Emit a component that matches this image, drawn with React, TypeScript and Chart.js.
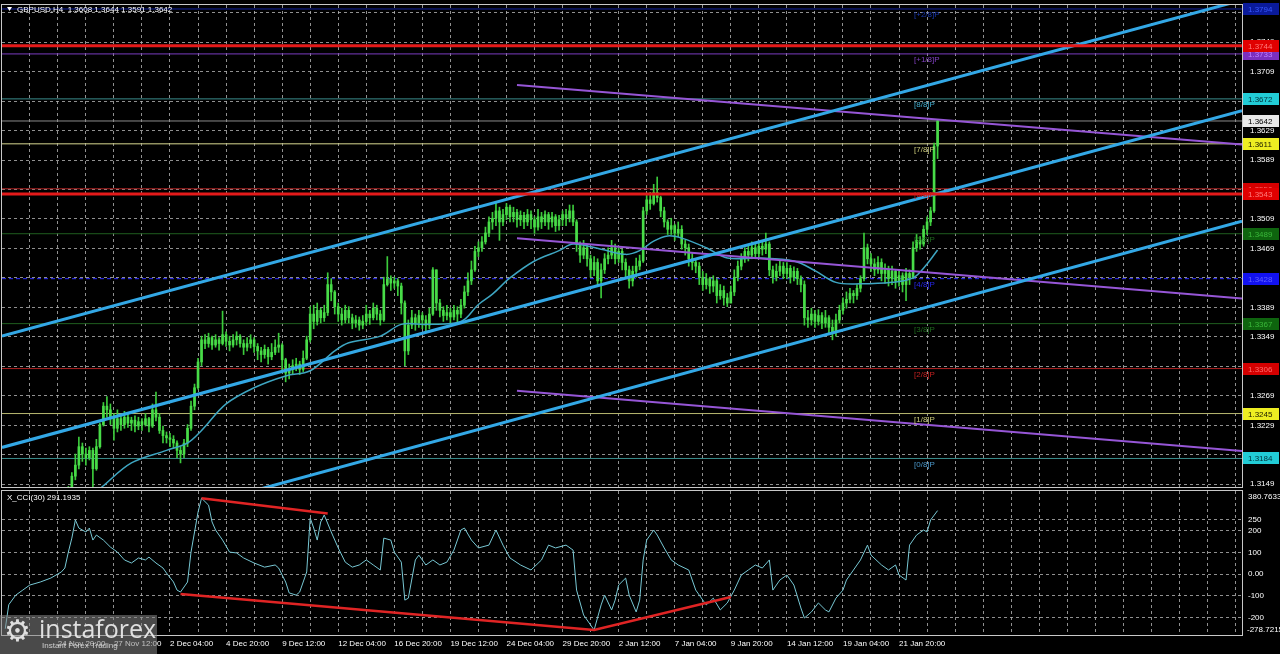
import React, { useEffect, useRef } from 'react';
import { Chart, registerables } from 'chart.js';

Chart.register(...registerables);

const FONT = "'Liberation Sans', 'DejaVu Sans', Arial, sans-serif";

// ---------------- data ----------------
const chartTitle = 'GBPUSD,H4  1.3608 1.3644 1.3591 1.3642';
const cciTitle = 'X_CCI(30) 291.1935';

// prices stored as pips above 1.3000 (e.g. 642 -> 1.3642)
const firstOpenPips = 82;
const closePips = [
  88, 95, 92, 86, 90, 97, 102, 98, 105, 110,
  106, 112, 118, 115, 122, 128, 125, 133, 140, 160,
  175, 200, 190, 185, 195, 170, 200, 230, 255, 250,
  240, 225, 238, 230, 240, 232, 236, 228, 234, 230,
  238, 228, 250, 240, 222, 215, 212, 210, 205, 195,
  190, 205, 225, 255, 280, 315, 345, 340, 348, 338,
  345, 340, 352, 343, 338, 345, 350, 340, 335, 340,
  345, 336, 330, 325, 332, 322, 328, 335, 338, 318,
  300, 305, 310, 312, 305, 320, 345, 380, 370, 385,
  375, 382, 420, 410, 390, 380, 372, 385, 375, 368,
  372, 365, 370, 380, 375, 388, 380, 372, 420, 428,
  422, 425, 418, 395, 330, 365, 375, 368, 378, 372,
  365, 380, 440, 395, 385, 378, 382, 376, 385, 380,
  392, 410, 425, 440, 465, 470, 478, 490, 505, 510,
  520, 505, 515, 525, 512, 518, 508, 514, 505, 515,
  508, 498, 512, 505, 515, 505, 512, 500, 508, 515,
  510, 520, 505, 475, 460, 470, 455, 440, 450, 425,
  440, 455, 460, 470, 455, 465, 450, 440, 425, 438,
  445, 452, 520, 535, 530, 545, 538, 520, 505, 495,
  500, 490, 495, 475, 470, 455, 450, 445, 430, 420,
  428, 418, 425, 405, 412, 402, 395, 410, 430, 445,
  455, 465, 460, 470, 462, 472, 468, 475, 440, 430,
  438, 445, 435, 442, 430, 438, 428, 420, 375, 372,
  380, 370, 378, 368, 375, 362, 355, 372, 385, 395,
  400, 408, 405, 415, 428, 470, 455, 448, 440, 450,
  435, 440, 428, 438, 425, 432, 420, 435, 430, 470,
  480, 475, 495, 505, 520, 608, 642,
];
const highPips = [
  96, 99, 100, 95, 94, 102, 108, 106, 110, 116,
  114, 118, 124, 122, 128, 134, 132, 138, 146, 165,
  190, 213, 205, 198, 200, 198, 210, 232, 260, 268,
  258, 245, 250, 242, 248, 245, 240, 242, 240, 238,
  245, 240, 258, 274, 245, 228, 220, 218, 215, 208,
  200, 210, 230, 262, 285, 320, 350, 352, 354, 350,
  352, 348, 384, 356, 350, 352, 356, 352, 345, 348,
  352, 348, 340, 335, 338, 335, 340, 345, 354, 340,
  320, 312, 318, 320, 316, 330, 350, 390, 392, 395,
  388, 392, 436, 428, 412, 395, 388, 392, 390, 380,
  378, 376, 378, 392, 385, 395, 392, 385, 430, 458,
  432, 430, 428, 422, 398, 372, 385, 380, 385, 382,
  378, 388, 443, 440, 400, 390, 392, 388, 392, 390,
  400, 418, 436, 452, 472, 478, 485, 498, 512, 518,
  531, 525, 522, 530, 528, 525, 522, 520, 518, 522,
  520, 512, 522, 518, 520, 518, 518, 515, 514, 520,
  522, 528, 528, 508, 478, 480, 474, 460, 458, 455,
  448, 462, 470, 480, 475, 472, 468, 455, 445, 445,
  456, 460, 525, 542, 545, 556, 566, 540, 525, 508,
  510, 502, 505, 500, 480, 475, 462, 455, 450, 438,
  435, 430, 432, 428, 420, 418, 408, 418, 440, 452,
  462, 470, 472, 478, 475, 478, 480, 490, 478, 445,
  448, 452, 450, 450, 446, 444, 442, 432, 425, 385,
  388, 385, 386, 382, 385, 378, 372, 380, 392, 402,
  410, 415, 412, 420, 432, 490, 475, 462, 455, 458,
  455, 448, 445, 445, 440, 440, 436, 442, 440, 478,
  488, 485, 500, 512, 525, 612, 644,
];
const lowPips = [
  80, 85, 86, 80, 82, 88, 95, 92, 96, 102,
  100, 104, 110, 108, 112, 120, 118, 122, 130, 138,
  155, 170, 180, 175, 182, 145, 168, 198, 228, 240,
  230, 209, 220, 222, 225, 226, 222, 220, 223, 222,
  228, 220, 226, 235, 218, 205, 205, 200, 198, 185,
  178, 185, 200, 222, 250, 278, 310, 333, 335, 332,
  335, 331, 338, 336, 330, 335, 338, 335, 325, 330,
  334, 328, 318, 315, 320, 312, 318, 325, 328, 300,
  288, 292, 298, 303, 298, 302, 318, 342, 360, 365,
  368, 370, 378, 398, 380, 370, 365, 368, 368, 360,
  362, 358, 360, 365, 366, 372, 372, 365, 370, 418,
  412, 415, 405, 380, 310, 325, 360, 358, 362, 360,
  355, 360, 378, 385, 376, 370, 372, 368, 372, 368,
  375, 388, 405, 420, 438, 458, 465, 475, 485, 495,
  500, 480, 500, 508, 505, 505, 498, 500, 496, 500,
  496, 490, 494, 496, 500, 495, 498, 492, 494, 500,
  500, 505, 500, 465, 450, 455, 445, 430, 432, 418,
  402, 435, 448, 455, 448, 450, 440, 430, 415, 418,
  430, 440, 450, 515, 522, 528, 532, 512, 498, 488,
  488, 480, 485, 468, 460, 445, 440, 436, 420, 412,
  414, 408, 410, 395, 400, 392, 390, 398, 405, 425,
  440, 450, 452, 455, 455, 458, 460, 462, 432, 422,
  425, 432, 428, 428, 422, 425, 420, 410, 365, 362,
  365, 362, 365, 360, 362, 352, 345, 350, 368, 380,
  388, 395, 395, 400, 410, 425, 448, 438, 432, 435,
  425, 422, 418, 420, 415, 418, 410, 398, 420, 428,
  465, 468, 472, 488, 500, 518, 591,
];

// moving average (bar index, pips)
const maBars = [24, 28, 36, 46, 52, 56, 63, 71, 80, 87, 94, 98, 107, 113, 120, 130, 135, 139, 144, 151, 158, 162, 170, 177, 181, 185, 189, 193, 200, 206, 215, 225, 231, 237, 244, 253, 259, 263, 266];
const maPips = [130, 147, 178, 195, 205, 222, 258, 280, 296, 303, 330, 341, 350, 366, 366, 370, 393, 407, 429, 452, 466, 475, 468, 461, 466, 479, 486, 483, 470, 456, 456, 452, 439, 423, 421, 423, 429, 448, 467];

// CCI(30)
const cciBars = [
  0, 1, 3, 5, 7, 10, 13, 16, 17, 18, 19, 20, 21, 23, 24, 25, 26, 28, 30, 32,
  34, 36, 38, 40, 41, 43, 45, 46, 48, 49, 50, 52, 53, 55, 56, 58, 59, 60, 62, 64,
  66, 68, 71, 74, 77, 78, 80, 81, 83, 84, 86, 87, 88, 89, 90, 91, 93, 95, 97, 99,
  101, 103, 105, 107, 108, 110, 111, 113, 114, 115, 117, 118, 120, 122, 124, 126, 128, 130, 131, 133,
  135, 138, 140, 142, 144, 147, 150, 153, 155, 157, 160, 162, 163, 165, 167, 168, 170, 171, 173, 174,
  175, 177, 178, 180, 181, 182, 183, 185, 186, 188, 190, 192, 195, 197, 200, 202, 204, 206, 208, 210,
  212, 214, 216, 218, 219, 221, 223, 225, 227, 228, 230, 232, 234, 235, 237, 239, 240, 242, 244, 246,
  247, 250, 252, 254, 255, 257, 258, 260, 262, 263, 264, 266,
];
const cciValues = [
  -250, -140, -96, -73, -50, -36, -18, 10, 28, 101, 165, 248, 211, 193, 211, 156, 179, 156, 124, 101,
  65, 51, 74, 65, 78, 51, 28, 5, -36, -73, -82, -36, 101, 284, 348, 316, 239, 202, 156, 101,
  97, 74, 51, 32, 42, 28, -36, -86, -96, -82, 10, 257, 211, 156, 239, 271, 193, 120, 55, 32,
  42, 65, 42, 19, 165, 156, 101, 55, -119, -110, 65, 87, 42, 65, 42, 55, 110, 202, 211, 156,
  120, 133, 202, 133, 74, 42, 19, 65, 133, 120, 133, 110, -73, -187, -233, -256, -141, -96, -164, -119,
  -50, -18, -96, -173, -119, 65, 156, 202, 179, 120, 65, 42, 19, -73, -141, -110, -164, -132, -73, -4,
  19, 42, 28, 65, -73, -27, -4, -50, -155, -201, -173, -132, -164, -173, -110, -73, -27, 19, 65, 133,
  87, 42, 19, 42, -4, -27, 133, 179, 202, 193, 248, 291,
];

// drawn lines (bar index, pips)
const channelBars = [-0.93, 352.85];
const channelUpperPips = [350, 806];
const channelMiddlePips = [199, 656];
const channelLowerPips = [47, 506];
const pitchBars = [146, 352.85];
const pitchTopPips = [691, 610];
const pitchMidPips = [483, 401];
const pitchLowPips = [276, 194];
const cciDivUpperBars = [56, 92];
const cciDivUpperValues = [348, 278];
const cciDivLowerBars = [50, 168, 207];
const cciDivLowerValues = [-91, -256, -105];

// Murrey math levels
const murreyPrices = [1.3184, 1.3245, 1.3306, 1.3367, 1.3428, 1.3489, 1.355, 1.3611, 1.3672, 1.3733, 1.3794];
const murreyNames = ['[0/8]P', '[1/8]P', '[2/8]P', '[3/8]P', '[4/8]P', '[5/8]P', '[6/8]P', '[7/8]P', '[8/8]P', '[+1/8]P', '[+2/8]P'];
const redLevelPrices = [1.3744, 1.3543];
const currentPrice = 1.3642;

const priceTicks = [1.3149, 1.3189, 1.3229, 1.3269, 1.3309, 1.3349, 1.3389, 1.3429, 1.3469, 1.3509, 1.3549, 1.3589, 1.3629, 1.3669, 1.3709, 1.3749, 1.3789];
const cciTicks = [-278.7215, -200, -100, 0, 100, 200, 250, 380.7633];
const xTickBars = [15, 31, 47, 63, 79, 95, 111, 127, 143, 159, 175, 191, 207, 223, 239, 255];
const xTickLabels = ['24 Nov 20:00', '27 Nov 12:00', '2 Dec 04:00', '4 Dec 20:00', '9 Dec 12:00', '12 Dec 04:00', '16 Dec 20:00', '19 Dec 12:00', '24 Dec 04:00', '29 Dec 20:00', '2 Jan 12:00', '7 Jan 04:00', '9 Jan 20:00', '14 Jan 12:00', '19 Jan 04:00', '21 Jan 20:00'];

// ---------------- layout / style ----------------
const X_MIN = -0.93;
const X_MAX = 352.85;
const PRICE_MIN = 1.31453;
const PRICE_MAX = 1.37994;
const CCI_MIN = -278.7215;
const CCI_MAX = 380.7633;
const GRID = 'rgba(180,180,180,0.8)';
const gridBars: number[] = [];
for (let b = 7; b <= 352; b += 8) gridBars.push(b);

const murreyLineColors = ['#3A8C8C', '#B8B870', '#B02222', '#1F5E1F', '#2E2EFF', '#1F5E1F', '#B02222', '#D8D890', '#3A8C8C', '#7A3CC0', '#1020A0'];
const murreyTextColors = ['#4A96C8', '#C8C878', '#C02020', '#1E6A1E', '#2626E8', '#1E6A1E', '#C02020', '#C8C878', '#40A8C8', '#8040C0', '#1838B0'];
const murreyBoxBg = ['#22CCD6', '#EEEE22', '#D40000', '#0E640E', '#1212F0', '#0E640E', '#D40000', '#EEEE22', '#22CCD6', '#7B2FBF', '#0A1A9A'];
const murreyBoxFg = ['#00303A', '#202000', '#FF6A6A', '#3AB83A', '#6060FF', '#3AB83A', '#FF6A6A', '#202000', '#00303A', '#C080FF', '#3858FF'];

const toPrice = (p: number) => 1.3 + p / 10000;
const pts = (bars: number[], vals: number[], f: (v: number) => number = (v) => v) =>
  bars.map((b, i) => ({ x: b, y: f(vals[i]) }));

const noPadX = (s: any, h: number) => {
  s.height = h;
  s.paddingLeft = 0;
  s.paddingRight = 0;
};
const noPadY = (s: any) => {
  s.width = 38;
  s.paddingTop = 0;
  s.paddingBottom = 0;
};

const priceOverlay = {
  id: 'priceOverlay',
  afterDraw(chart: any) {
    const { ctx, chartArea: a } = chart;
    const ys = chart.scales.y;
    ctx.save();
    ctx.font = `8px ${FONT}`;
    ctx.textBaseline = 'middle';
    ctx.textAlign = 'left';
    murreyPrices.forEach((p, k) => {
      ctx.fillStyle = murreyTextColors[k];
      ctx.fillText(murreyNames[k], 914, ys.getPixelForValue(p) + 6);
    });
    // frame
    ctx.strokeStyle = '#C8C8C8';
    ctx.lineWidth = 1;
    ctx.strokeRect(a.left - 0.5, a.top - 0.5, a.right - a.left + 1, a.bottom - a.top + 1);
    // right axis label boxes
    const boxes: { p: number; bg: string; fg: string }[] = [];
    murreyPrices.forEach((p, k) => boxes.push({ p, bg: murreyBoxBg[k], fg: murreyBoxFg[k] }));
    redLevelPrices.forEach((p) => boxes.push({ p, bg: '#E00000', fg: '#FF7A7A' }));
    boxes.push({ p: currentPrice, bg: '#E8E8E8', fg: '#000000' });
    boxes.forEach((b) => {
      const py = Math.round(ys.getPixelForValue(b.p));
      ctx.fillStyle = b.bg;
      ctx.fillRect(a.right + 1, py - 6, 36, 12);
      ctx.fillStyle = b.fg;
      ctx.fillText(b.p.toFixed(4), a.right + 6, py + 0.5);
    });
    // title
    ctx.fillStyle = '#FFFFFF';
    ctx.beginPath();
    ctx.moveTo(7, 7);
    ctx.lineTo(12, 7);
    ctx.lineTo(9.5, 11);
    ctx.closePath();
    ctx.fill();
    ctx.fillText(chartTitle, 17, 10);
    ctx.restore();
  },
};

const cciOverlay = {
  id: 'cciOverlay',
  afterDraw(chart: any) {
    const { ctx, chartArea: a } = chart;
    ctx.save();
    ctx.strokeStyle = '#C8C8C8';
    ctx.lineWidth = 1;
    ctx.strokeRect(a.left - 0.5, a.top - 0.5, a.right - a.left + 1, a.bottom - a.top + 1);
    ctx.font = `8px ${FONT}`;
    ctx.textBaseline = 'middle';
    ctx.textAlign = 'left';
    ctx.fillStyle = '#FFFFFF';
    ctx.fillText(cciTitle, 7, 9);
    ctx.fillText(CCI_MAX.toFixed(4), a.right + 6, 8);
    ctx.fillText(CCI_MIN.toFixed(4), a.right + 5, 141);
    // logo
    ctx.fillStyle = 'rgba(135,135,135,0.55)';
    ctx.fillRect(0, 126, 157, 39);
    ctx.fillStyle = 'rgba(235,235,235,0.92)';
    ctx.font = `30px 'DejaVu Sans', sans-serif`;
    ctx.textBaseline = 'alphabetic';
    ctx.fillText('\u2699', 4, 152);
    ctx.font = `25px 'Open Sans', 'Liberation Sans', sans-serif`;
    ctx.fillText('instaforex', 39, 149);
    ctx.font = `8px ${FONT}`;
    ctx.fillStyle = 'rgba(225,225,225,0.85)';
    ctx.fillText('Instant Forex Trading', 42, 159);
    ctx.restore();
  },
};

export default function App() {
  const priceRef = useRef<HTMLCanvasElement | null>(null);
  const cciRef = useRef<HTMLCanvasElement | null>(null);

  useEffect(() => {
    const bodies = closePips.map((c, i) => {
      const o = i === 0 ? firstOpenPips : closePips[i - 1];
      return { x: i, y: [toPrice(Math.min(o, c)), toPrice(Math.max(o, c))] };
    });
    const wicks = closePips.map((c, i) => {
      const o = i === 0 ? firstOpenPips : closePips[i - 1];
      return { x: i, y: [toPrice(Math.min(lowPips[i], o, c)), toPrice(Math.max(highPips[i], o, c))] };
    });
    const lineDs = (data: any[], color: string, width: number, order: number, extra: any = {}) => ({
      type: 'line',
      data,
      borderColor: color,
      borderWidth: width,
      pointRadius: 0,
      fill: false,
      tension: 0,
      clip: 0,
      order,
      ...extra,
    });

    const datasets: any[] = [];
    murreyPrices.forEach((p, k) => {
      datasets.push(
        lineDs([{ x: X_MIN, y: p }, { x: X_MAX, y: p }], murreyLineColors[k], 1, 60, k === 4 ? { borderDash: [4, 3] } : {})
      );
    });
    datasets.push(lineDs([{ x: X_MIN, y: currentPrice }, { x: X_MAX, y: currentPrice }], '#8A8A8A', 1, 59));
    datasets.push({
      type: 'bar', data: wicks, backgroundColor: '#3CCB3C', barThickness: 1, grouped: false, minBarLength: 1, clip: 0, order: 41,
    });
    datasets.push({
      type: 'bar', data: bodies, backgroundColor: '#48DC48', barThickness: 2, grouped: false, minBarLength: 1, clip: 0, order: 40,
    });
    datasets.push(lineDs(pts(maBars, maPips, toPrice), '#3EA6C2', 1.5, 30, { tension: 0.35 }));
    datasets.push(lineDs(pts(pitchBars, pitchTopPips, toPrice), '#9656D6', 2, 20));
    datasets.push(lineDs(pts(pitchBars, pitchMidPips, toPrice), '#9656D6', 2, 20));
    datasets.push(lineDs(pts(pitchBars, pitchLowPips, toPrice), '#9656D6', 2, 20));
    datasets.push(lineDs(pts(channelBars, channelUpperPips, toPrice), '#33A8E6', 3, 10));
    datasets.push(lineDs(pts(channelBars, channelMiddlePips, toPrice), '#33A8E6', 3, 10));
    datasets.push(lineDs(pts(channelBars, channelLowerPips, toPrice), '#33A8E6', 3, 10));
    redLevelPrices.forEach((p) => {
      datasets.push(lineDs([{ x: X_MIN, y: p }, { x: X_MAX, y: p }], '#E41A1A', 3, 5));
    });

    const priceChart = new Chart(priceRef.current as HTMLCanvasElement, {
      type: 'bar',
      data: { datasets },
      options: {
        animation: false,
        responsive: false,
        devicePixelRatio: 1,
        events: [],
        layout: { padding: { left: 2, top: 5, right: 0, bottom: 2 } },
        plugins: { legend: { display: false }, tooltip: { enabled: false } },
        scales: {
          x: {
            type: 'linear',
            min: X_MIN,
            max: X_MAX,
            offset: false,
            afterBuildTicks: (s: any) => { s.ticks = gridBars.map((v) => ({ value: v })); },
            afterFit: (s: any) => noPadX(s, 0),
            ticks: { display: false },
            grid: { color: GRID, drawTicks: false, offset: false },
            border: { display: false, dash: [3, 3] },
          },
          y: {
            type: 'linear',
            position: 'right',
            min: PRICE_MIN,
            max: PRICE_MAX,
            afterBuildTicks: (s: any) => { s.ticks = priceTicks.map((v) => ({ value: v })); },
            afterFit: noPadY,
            ticks: {
              color: '#FFFFFF',
              font: { family: FONT, size: 8 },
              padding: 8,
              autoSkip: false,
              callback: (v: any) => Number(v).toFixed(4),
            },
            grid: { color: GRID, drawTicks: false },
            border: { display: false, dash: [3, 3] },
          },
        },
      } as any,
      plugins: [priceOverlay],
    } as any);

    const cciChart = new Chart(cciRef.current as HTMLCanvasElement, {
      type: 'line',
      data: {
        datasets: [
          lineDs(pts(cciBars, cciValues), '#78C8D4', 1, 10),
          lineDs(pts(cciDivUpperBars, cciDivUpperValues), '#E02424', 2.5, 5),
          lineDs(pts(cciDivLowerBars, cciDivLowerValues), '#E02424', 2.5, 5),
        ],
      },
      options: {
        animation: false,
        responsive: false,
        devicePixelRatio: 1,
        events: [],
        layout: { padding: { left: 2, top: 2, right: 0, bottom: 0 } },
        plugins: { legend: { display: false }, tooltip: { enabled: false } },
        scales: {
          x: {
            type: 'linear',
            min: X_MIN,
            max: X_MAX,
            offset: false,
            afterBuildTicks: (s: any) => { s.ticks = gridBars.map((v) => ({ value: v })); },
            afterFit: (s: any) => noPadX(s, 19),
            ticks: {
              color: '#FFFFFF',
              font: { family: FONT, size: 8 },
              align: 'start',
              padding: 4,
              autoSkip: false,
              maxRotation: 0,
              minRotation: 0,
              callback: (v: any) => {
                const k = xTickBars.indexOf(Number(v));
                return k >= 0 ? xTickLabels[k] : '';
              },
            },
            grid: { color: GRID, drawTicks: false, offset: false },
            border: { display: false, dash: [3, 3] },
          },
          y: {
            type: 'linear',
            position: 'right',
            min: CCI_MIN,
            max: CCI_MAX,
            afterBuildTicks: (s: any) => { s.ticks = cciTicks.map((v) => ({ value: v })); },
            afterFit: noPadY,
            ticks: {
              color: '#FFFFFF',
              font: { family: FONT, size: 8 },
              padding: 6,
              autoSkip: false,
              callback: (v: any) => {
                const n = Number(v);
                if (n === CCI_MIN || n === CCI_MAX) return '';
                return n === 0 ? '0.00' : String(n);
              },
            },
            grid: {
              color: (c: any) => (c.tick && (c.tick.value === CCI_MIN || c.tick.value === CCI_MAX) ? 'rgba(0,0,0,0)' : GRID),
              drawTicks: false,
            },
            border: { display: false, dash: [3, 3] },
          },
        },
      } as any,
      plugins: [cciOverlay],
    } as any);

    return () => {
      priceChart.destroy();
      cciChart.destroy();
    };
  }, []);

  return (
    <div style={{ position: 'fixed', left: 0, top: 0, width: 1280, height: 654, background: '#000', overflow: 'hidden' }}>
      <canvas ref={priceRef} width={1280} height={489} style={{ position: 'absolute', left: 0, top: 0, width: 1280, height: 489 }} />
      <canvas ref={cciRef} width={1280} height={165} style={{ position: 'absolute', left: 0, top: 489, width: 1280, height: 165 }} />
    </div>
  );
}
